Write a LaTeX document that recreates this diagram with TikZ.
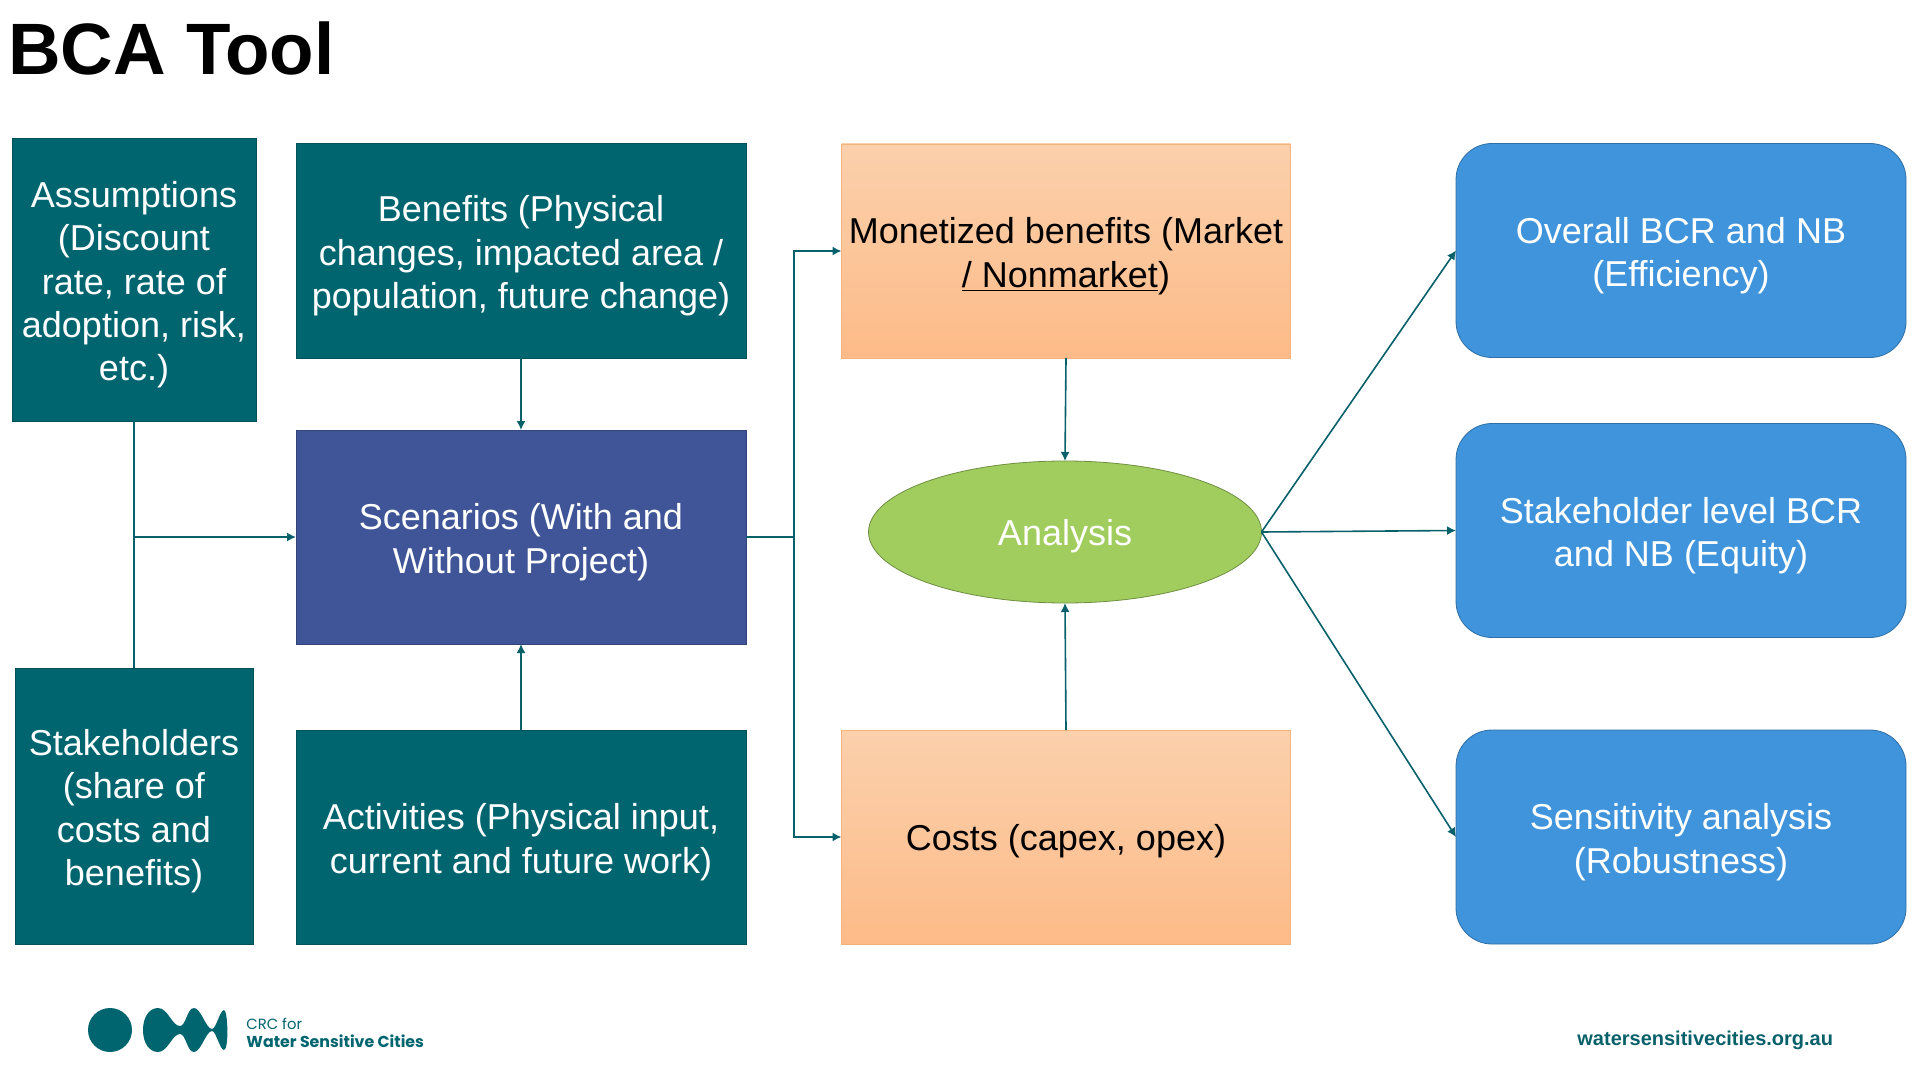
\documentclass[tikz,border=0pt]{standalone}
\usepackage{fontspec}
\setmainfont{Liberation Sans}
\newfontfamily\logofont{Poppins}
\usepackage{tikz}
\usetikzlibrary{shapes.geometric}
\usetikzlibrary{arrows.meta,calc,positioning}
\definecolor{darkteal}{RGB}{0,101,111}
\definecolor{lineteal}{RGB}{8,96,106}
\definecolor{darkblue}{RGB}{63,85,151}
\definecolor{lightblue}{RGB}{63,148,220}
\definecolor{darkgreen}{RGB}{160,205,94}
\definecolor{peachtop}{RGB}{251,208,172}
\definecolor{peachbottom}{RGB}{253,187,136}
\newcommand{\dropline}{\rule{0pt}{18.3pt}}
\tikzset{
  tealbox/.style={outer sep=0pt, draw=darkteal!80!black, fill=darkteal, text=white, align=center, inner sep=2pt},
  peachbox/.style={outer sep=0pt, draw=peachbottom!85!brown, top color=peachtop, bottom color=peachbottom, text=black, align=center, inner sep=2pt, minimum width=224.5pt, minimum height=107pt},
  bluebox/.style={outer sep=0pt, draw=lightblue!75!black, fill=lightblue, text=white, align=center, rounded corners=18pt, minimum width=225pt},
  link/.style={draw=lineteal, line width=0.8pt},
  arrowlink/.style={link, -{Latex[length=4.5pt, width=4.5pt]}}
}
\begin{document}
\begin{tikzpicture}[x=0.5pt, y=-0.5pt, font=\fontsize{18}{21.6}\selectfont]
    % Fix the page
    \useasboundingbox (0,0) rectangle (1920,1080);
    % Title
    \node[anchor=west, inner sep=0pt, font=\fontsize{36.4}{40}\selectfont\bfseries] (title) at (8,48) {BCA Tool};
    % Input boxes
    \node[tealbox, minimum width=122pt, minimum height=141.5pt] (assumptions) at (134,279.5) {\dropline Assumptions\\(Discount\\rate, rate of\\adoption, risk,\\etc.)};
    \node[tealbox, minimum width=119pt, minimum height=138pt] (stakeholders) at (134,806) {\dropline Stakeholders\\(share of\\costs and\\benefits)};
    \node[tealbox, minimum width=225pt, minimum height=107.5pt] (benefits) at (521,250.5) {\dropline Benefits (Physical\\changes, impacted area /\\population, future change)};
    \node[tealbox, fill=darkblue, draw=darkblue!80!black, minimum width=225pt, minimum height=107pt] (scenarios) at (521,537) {\dropline Scenarios (With and\\Without Project)};
    \node[tealbox, minimum width=225pt, minimum height=107pt] (activities) at (521,837) {\dropline Activities (Physical input,\\current and future work)};
    % Middle column
    \node[peachbox] (monetized) at (1066,251) {\dropline Monetized benefits (Market\\\underline{/ Nonmarket})};
    \node[peachbox] (costs) at (1066,837) {\rule{0pt}{17.3pt}Costs (capex, opex)};
    \node[ellipse, outer sep=0pt, draw=darkgreen!70!black, fill=darkgreen, text=white, inner sep=0pt, minimum width=196.5pt, minimum height=71pt] (analysis) at (1065,532) {\rule{0pt}{17.3pt}Analysis};
    % Result boxes
    \foreach \name/\ypos/\txt in {overall/250.5/{\dropline Overall BCR and NB\\(Efficiency)}, level/530.5/{\dropline Stakeholder level BCR\\and NB (Equity)}, sensitivity/837/{\dropline Sensitivity analysis\\(Robustness)}} {
        \node[bluebox, minimum height=107pt] (\name) at (1681,\ypos) {\txt};
        % Connecting arrows
        \draw[arrowlink] (analysis.east) -- (\name.west);
    }
    % Free ends of the elbows
    \coordinate (leftjoin) at (assumptions.south |- scenarios.west);
    \coordinate (rightjoin) at (794,537);
    % Connectors on the left
    \draw[link] (assumptions.south) -- (stakeholders.north);
    \draw[arrowlink] (leftjoin) -- (scenarios.west);
    \draw[arrowlink] (benefits.south) -- (scenarios.north);
    \draw[arrowlink] (activities.north) -- (scenarios.south);
    % Connectors in the middle
    \draw[link] (scenarios.east) -- (rightjoin);
    \draw[arrowlink] (rightjoin) |- (monetized.west);
    \draw[arrowlink] (rightjoin) |- (costs.west);
    \draw[arrowlink] (monetized.south) -- (analysis.north);
    \draw[arrowlink] (costs.north) -- (analysis.south);
    % Logo
    \fill[darkteal] (110,1030) circle (22);
    \fill[darkteal] (143,1030) .. controls (143,1016) and (150,1008) .. (158,1008)
        .. controls (168,1008) and (172,1026) .. (180,1026)
        .. controls (186,1026) and (187,1008) .. (194,1008)
        .. controls (201,1008) and (206,1029) .. (212,1029)
        .. controls (216,1029) and (220,1010) .. (224,1010)
        .. controls (228,1010) and (229,1050) .. (224,1050)
        .. controls (220,1050) and (216,1031) .. (212,1031)
        .. controls (206,1031) and (201,1052) .. (194,1052)
        .. controls (187,1052) and (186,1034) .. (180,1034)
        .. controls (172,1034) and (168,1052) .. (158,1052)
        .. controls (150,1052) and (143,1044) .. (143,1030) -- cycle;
    \node[anchor=west, inner sep=0pt, text=darkteal, font=\logofont\fontsize{7.4}{9}\selectfont] (crcfor) at (246,1024) {CRC for};
    \node[anchor=west, inner sep=0pt, text=darkteal, font=\logofont\fontsize{7.9}{9}\selectfont\bfseries] (crcname) at (246,1041) {Water Sensitive Cities};
    \node[anchor=west, inner sep=0pt, text=lineteal, font=\fontsize{10}{12}\selectfont\bfseries] (website) at (1577,1040) {watersensitivecities.org.au};
\end{tikzpicture}
\end{document}
